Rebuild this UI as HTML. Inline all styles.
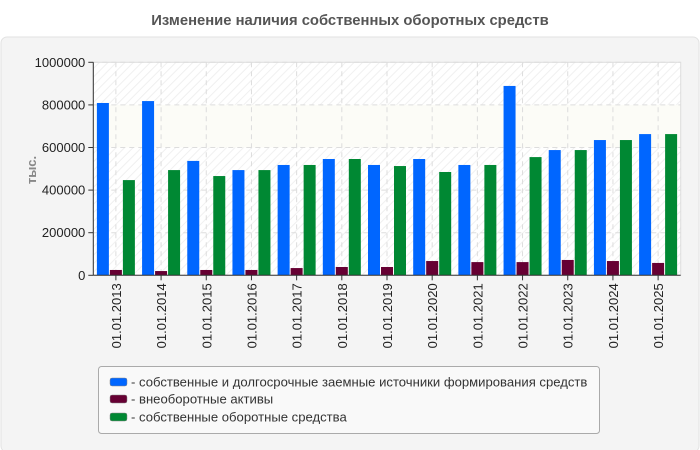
<!DOCTYPE html>
<html><head><meta charset="utf-8"><style>
html,body{margin:0;padding:0;background:#fff;}
svg{display:block;font-family:"Liberation Sans",sans-serif;}
</style></head><body>
<svg id="chart" width="700" height="450">
<defs>
<pattern id="hatch" width="6" height="6" patternUnits="userSpaceOnUse" patternTransform="rotate(45)">
<rect width="6" height="6" fill="#fff"/><line x1="0" y1="0" x2="0" y2="6" stroke="#f0f0f0" stroke-width="2"/>
</pattern>
</defs>
<text x="350" y="25" text-anchor="middle" font-size="14.8" font-weight="bold" fill="#555">Изменение наличия собственных оборотных средств</text>
<rect x="1" y="37" width="698" height="415" rx="6" fill="#f4f4f4" stroke="#e2e2e2"/>
<g id="plot"></g>
<text transform="translate(36,170) rotate(-90)" text-anchor="middle" font-size="13" font-weight="bold" fill="#888">тыс.</text>
<g>
<rect x="98.5" y="366.5" width="501" height="67" rx="3" fill="#f9f9f9" stroke="#aaa"/>
<g><rect x="110" y="378" width="17" height="8" rx="2" fill="#0066ff" stroke="#888" stroke-width="0.5"/><text x="131" y="386.5" font-size="13.1" fill="#333">- собственные и долгосрочные заемные источники формирования средств</text></g>
<g><rect x="110" y="395" width="17" height="8" rx="2" fill="#660033" stroke="#888" stroke-width="0.5"/><text x="131" y="403.5" font-size="13.1" fill="#333">- внеоборотные активы</text></g>
<g><rect x="110" y="413" width="17" height="8" rx="2" fill="#008833" stroke="#888" stroke-width="0.5"/><text x="131" y="421.5" font-size="13.1" fill="#333">- собственные оборотные средства</text></g>
</g>
</svg>
<script>
const categories=["01.01.2013","01.01.2014","01.01.2015","01.01.2016","01.01.2017","01.01.2018","01.01.2019","01.01.2020","01.01.2021","01.01.2022","01.01.2023","01.01.2024","01.01.2025"];
const sources=[809000,818000,537000,494000,518000,546000,518000,546000,518000,889000,588000,635000,663000];
const nonCurrent=[25000,20000,25000,25000,34000,39000,39000,67000,62000,62000,72000,67000,58000];
const working=[447000,494000,466000,494000,518000,546000,513000,485000,518000,555000,588000,635000,663000];
const yTicks=[0,200000,400000,600000,800000,1000000];
const NS="http://www.w3.org/2000/svg";
const g=document.getElementById('plot');
const L=93.3,R=680.7,T=62.3,B=275.3,yMax=1000000;
const y=v=>B-(v/yMax)*(B-T);
const bw=(R-L)/categories.length;
const xc=i=>L+bw*(i+0.5);
function mk(t,a){const e=document.createElementNS(NS,t);for(const k in a)e.setAttribute(k,a[k]);g.appendChild(e);return e;}
mk('rect',{x:L,y:T,width:R-L,height:B-T,fill:'url(#hatch)'});
mk('rect',{x:L,y:y(800000),width:R-L,height:y(600000)-y(800000),fill:'#fcfcf7'});
mk('rect',{x:L,y:T,width:R-L,height:B-T,fill:'none',stroke:'#ddd'});
yTicks.forEach(v=>{
 if(v>0){const l=mk('line',{x1:L,x2:R,y1:y(v),y2:y(v),stroke:'#ddd','stroke-dasharray':'5,4'});
 
 }
 mk('line',{x1:L-5,x2:L,y1:y(v),y2:y(v),stroke:'#333'});
 const t=mk('text',{x:L-8,y:y(v)+4.5,'text-anchor':'end','font-size':13,fill:'#222'});t.textContent=v;
 
 
});
categories.forEach((c,i)=>{
 const x=xc(i);
 mk('line',{x1:x,x2:x,y1:T,y2:B,stroke:'#ddd','stroke-dasharray':'5,4'});
 mk('line',{x1:x,x2:x,y1:B,y2:B+5,stroke:'#333'});
 const t=mk('text',{transform:`translate(${x+5},${B+8}) rotate(-90)`,'text-anchor':'end','font-size':13,fill:'#222'});t.textContent=c;
 
 
 [[sources,'#0066ff','bar-sources'],[nonCurrent,'#660033','bar-non-current-assets'],[working,'#008833','bar-working-capital']].forEach((s,k)=>{
  const v=s[0][i];
  const r=mk('rect',{x:x-19+k*13,y:y(v),width:12,height:B-y(v),fill:s[1]});
  
  
 });
});
mk('line',{x1:L,x2:L,y1:T,y2:B,stroke:'#333'});
mk('line',{x1:L,x2:R,y1:B,y2:B,stroke:'#333'});
</script>
</body></html>
